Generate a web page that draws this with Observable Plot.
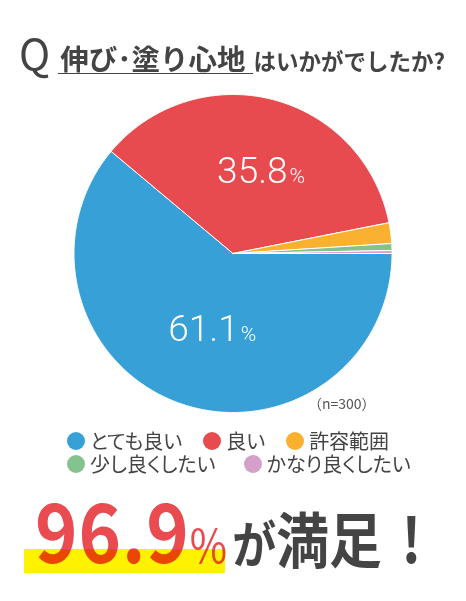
<!DOCTYPE html>
<html><head><meta charset="utf-8">
<script src="https://cdn.jsdelivr.net/npm/d3@7"></script>
<script src="https://cdn.jsdelivr.net/npm/@observablehq/plot@0.6"></script>
<style>
body{margin:0;background:#fff;}
#wrap{position:relative;width:466px;height:601px;overflow:hidden;font-family:"Noto Sans CJK JP",sans-serif;color:#444;}
#title{position:absolute;left:19px;top:31px;display:flex;align-items:baseline;white-space:nowrap;}
#title .q{font-size:42px;line-height:1;font-weight:400;margin-right:8px;}
#title .main{font-size:28.5px;line-height:1;font-weight:700;border-bottom:1.5px solid #444;padding-left:2px;padding-right:8px;}
#title .sub{font-size:22.5px;line-height:1;font-weight:700;}
#chart{position:absolute;left:0;top:88px;}
#n{position:absolute;left:308px;top:393px;font-size:14px;color:#555;}
#legend{position:absolute;left:67px;top:429px;}
.row{display:flex;align-items:center;height:23px;gap:21px;}
.row.r2{gap:28px;}
.item{display:flex;align-items:center;font-size:20px;line-height:1;white-space:nowrap;font-feature-settings:"palt";}
.dot{width:18px;height:18px;border-radius:50%;margin-right:5px;}
#band{position:absolute;left:24px;top:549px;width:201px;height:24px;background:#fff200;}
#bottom{position:absolute;left:35px;top:487px;display:flex;align-items:baseline;white-space:nowrap;mix-blend-mode:multiply;transform:scaleX(0.88);transform-origin:0 0;}
#bottom .big{font-size:82px;font-weight:700;color:#e94b50;line-height:1;letter-spacing:1px;}
#bottom .pct{font-size:46px;font-weight:400;color:#e94b50;line-height:1;}
#bottom .ga{font-size:50px;font-weight:700;color:#444;line-height:1;margin-left:6px;}
#bottom .man{font-size:60px;font-weight:700;color:#444;line-height:1;}
#bottom .ex{font-size:62px;font-weight:700;color:#444;line-height:1;margin-left:22px;}
</style></head><body>
<div id="wrap">
  <div id="title"><span class="q">Q</span><span class="main">伸び･塗り心地</span><span class="sub">はいかがでしたか?</span></div>
  <div id="chart"></div>
  <div id="n"></div>
  <div id="legend"></div>
  <div id="band"></div>
  <div id="bottom"></div>
</div>
<script>
const categories = ["とても良い","良い","許容範囲","少し良くしたい","かなり良くしたい"];
const values = [61.1, 35.8, 2.1, 0.7, 0.3];
const colors = ["#37a0d7","#e84b4f","#fbb130","#85c28e","#d4a0ca"];
const sampleSize = 300;
const satisfied = 96.9;
const legendRows = [[0,1,2],[3,4]];

const total = d3.sum(values);
let acc = 0;
const slices = categories.map((c,i)=>{
  const a0 = 90 + acc/total*360; acc += values[i];
  const a1 = 90 + acc/total*360;
  return {cat:c, value:values[i], a0, a1};
});
const pts = [];
slices.forEach(s=>{
  pts.push({cat:s.cat,x:0,y:0});
  const n = Math.max(2, Math.ceil((s.a1-s.a0)*2));
  for(let k=0;k<=n;k++){
    const a=(s.a0+(s.a1-s.a0)*k/n)*Math.PI/180;
    pts.push({cat:s.cat,x:Math.sin(a),y:Math.cos(a)});
  }
  pts.push({cat:s.cat,x:0,y:0});
});
const labels = slices.filter(s=>s.value>=10).map(s=>{
  const m=(s.a0+s.a1)/2*Math.PI/180;
  return {...s,x:0.52*Math.sin(m),y:0.52*Math.cos(m)};
});

const W=466,H=330,R=159,cx=232.5,cy=165;
const chart = Plot.plot({
  width:W,height:H,
  marginLeft:cx-R,marginRight:W-cx-R,marginTop:cy-R,marginBottom:H-cy-R,
  x:{domain:[-1,1],axis:null},
  y:{domain:[-1,1],axis:null},
  color:{domain:categories,range:colors},
  style:{background:"transparent"},
  marks:[
    Plot.line(pts,{x:"x",y:"y",z:"cat",fill:"cat",stroke:"white",strokeWidth:1,strokeLinejoin:"round"}),
    Plot.text(labels,{x:"x",y:"y",text:d=>d.value.toFixed(1),textAnchor:"end",lineAnchor:"bottom",dx:34,dy:10,fill:"white",fontSize:37,fontWeight:300,fontFamily:"Roboto"}),
    Plot.text(labels,{x:"x",y:"y",text:()=>"%",textAnchor:"start",lineAnchor:"bottom",dx:36,dy:10,fill:"white",fontSize:21,fontWeight:300,fontFamily:"Roboto"})
  ]
});
document.getElementById("chart").appendChild(chart);
document.getElementById("n").textContent = `（n=${sampleSize}）`;

const lg = document.getElementById("legend");
legendRows.forEach((r,ri)=>{
  const row=document.createElement("div"); row.className="row"+(ri?" r2":"");
  r.forEach(i=>{
    const it=document.createElement("div"); it.className="item";
    const dot=document.createElement("span"); dot.className="dot"; dot.style.background=colors[i];
    it.appendChild(dot); it.appendChild(document.createTextNode(categories[i]));
    row.appendChild(it);
  });
  lg.appendChild(row);
});

const b=document.getElementById("bottom");
b.innerHTML=`<span class="big">${satisfied.toFixed(1)}</span><span class="pct">%</span><span class="ga">が</span><span class="man">満足</span><span class="ex">!</span>`;
</script>
</body></html>
